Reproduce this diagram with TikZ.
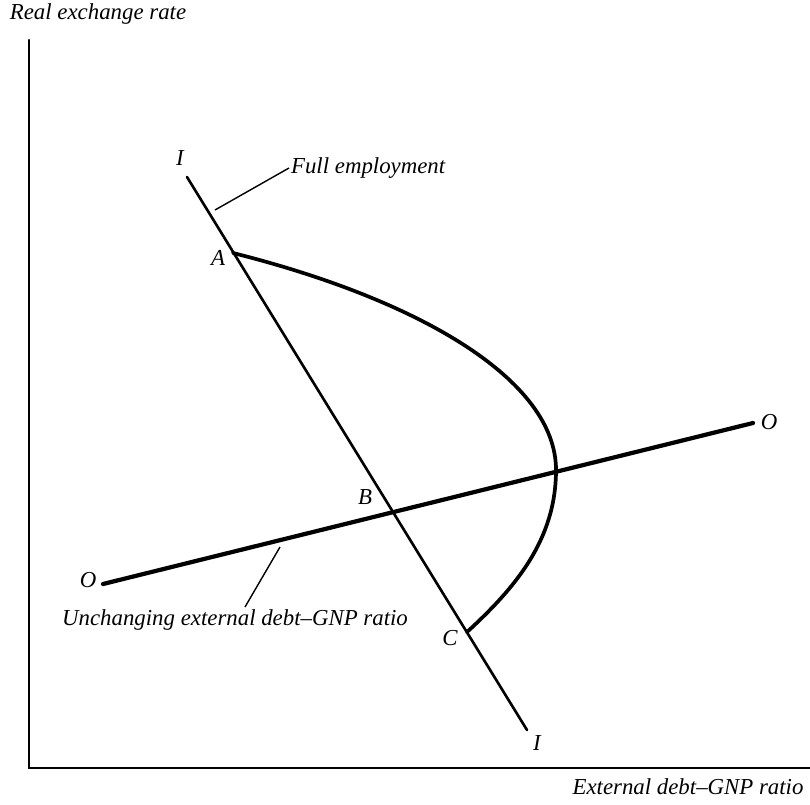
\documentclass[tikz,border=0pt]{standalone}
\usepackage{fontspec}
\setmainfont{Liberation Serif}
\usetikzlibrary{calc}

\begin{document}
\begin{tikzpicture}[x=0.02cm, y=-0.02cm,
    axis/.style={line width=1.4pt, line cap=round},
    sched/.style={line width=1.5pt, line cap=round},
    ratio/.style={line width=2.4pt, line cap=round},
    path/.style={line width=2.1pt, line cap=round},
    leader/.style={line width=0.8pt},
    lbl/.style={font=\fontsize{13}{15}\selectfont\itshape, inner sep=1pt}]
\useasboundingbox (0,0) rectangle (810,804);
% axes
\coordinate (top) at (29,40);
\coordinate (origin) at (29,768);
\coordinate (right) at (810,768);
\draw[axis] (top) -- (origin) -- (right);
\node[lbl] (ylab) at (98,14) {Real exchange rate};
\node[lbl] (xlab) at (688,787) {External debt--GNP ratio};
% schedules
\coordinate (i1) at (187,177);
\coordinate (i2) at (527,730);
\coordinate (o1) at (103,584);
\coordinate (o2) at (753,423);
\draw[sched] (i1) -- (i2);
\draw[ratio] (o1) -- (o2);
\node[lbl] (itop) at (180,158) {I};
\node[lbl] (ibot) at (537,743) {I};
\node[lbl] (oleft) at (88,580) {O};
\node[lbl] (oright) at (769,422) {O};
% adjustment path
\coordinate (a) at (233,253);
\coordinate (c) at (467,632);
\draw[path] (a) .. controls (420,300) and (556,380) .. (556,470)
    .. controls (556,540) and (515,588) .. (c);
\node[lbl] (alab) at (218,258) {A};
\node[lbl] (blab) at (365,497) {B};
\node[lbl] (clab) at (450,638) {C};
% labels with leaders
\node[lbl, anchor=west] (full) at (289,168) {Full employment};
\coordinate (fe) at (215,210);
\draw[leader] (fe) -- (full.west);
\node[lbl] (unch) at (235,620) {Unchanging external debt--GNP ratio};
\coordinate (ue) at (280,547);
\coordinate (ue2) at (245,607);
\draw[leader] (ue) -- (ue2);
\end{tikzpicture}
\end{document}
